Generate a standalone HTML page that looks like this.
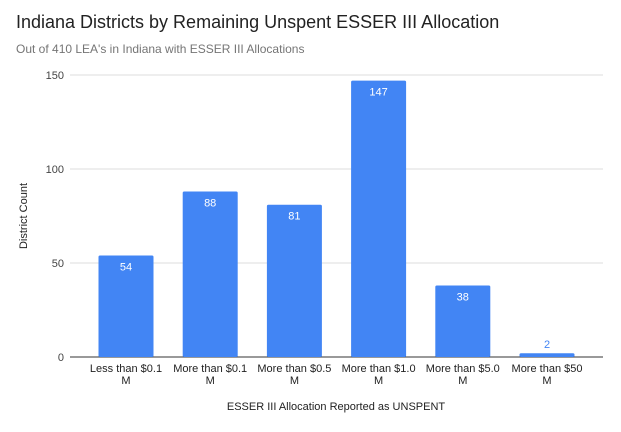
<!DOCTYPE html>
<html><head><meta charset="utf-8"><style>
body{margin:0;background:#fff;}
svg{font-family:"Liberation Sans",Arial,sans-serif;display:block}
</style></head><body>
<svg id="c" width="621" height="432">
<text x="16" y="28" font-size="18" fill="#222">Indiana Districts by Remaining Unspent ESSER III Allocation</text>
<text x="16" y="53" font-size="12" fill="#757575">Out of 410 LEA's in Indiana with ESSER III Allocations</text>
<text transform="translate(27,216) rotate(-90)" text-anchor="middle" font-size="11" fill="#222">District Count</text>
<text x="336" y="410" text-anchor="middle" font-size="11" fill="#222">ESSER III Allocation Reported as UNSPENT</text>
<g id="grid"></g><g id="bars"></g><g id="xl"></g>
</svg>
<script>
const categories=[["Less than $0.1","M"],["More than $0.1","M"],["More than $0.5","M"],["More than $1.0","M"],["More than $5.0","M"],["More than $50","M"]];
const values=[54,88,81,147,38,2];
const yTicks=[0,50,100,150];
const NS="http://www.w3.org/2000/svg";
const y0=357,yTop=75,yMax=150;
const y=v=>y0-(v/yMax)*(y0-yTop);
const x=i=>126+i*84.2;
const bw=55;
function mk(t,a,p){const e=document.createElementNS(NS,t);for(const k in a)e.setAttribute(k,a[k]);p.appendChild(e);return e;}
const g=document.getElementById('grid');
yTicks.forEach(t=>{
  const l=mk('line',{x1:70,x2:603,y1:y(t),y2:y(t),stroke:t===0?'#333':'#ddd','stroke-width':1},g);
  
  
  const tx=mk('text',{x:64,y:y(t)+4,'text-anchor':'end','font-size':11,fill:'#444'},g);
  tx.textContent=t;
  
  
});
const b=document.getElementById('bars'),xl=document.getElementById('xl');
values.forEach((v,i)=>{
  const h=y0-y(v);
  const r=mk('rect',{x:x(i)-bw/2,y:y(v),width:bw,height:h,fill:'#4285f4',rx:1.5},b);
  
  
  const inside=h>20;
  const t=mk('text',{x:x(i),y:inside?y(v)+15:y(v)-5,'text-anchor':'middle','font-size':11,fill:inside?'#fff':'#4285f4'},b);
  t.textContent=v;
  
  
  categories[i].forEach((s,j)=>{
    const c=mk('text',{x:x(i),y:372+j*12,'text-anchor':'middle','font-size':11,fill:'#222'},xl);
    c.textContent=s;
    
    
  });
});
</script>
</body></html>
